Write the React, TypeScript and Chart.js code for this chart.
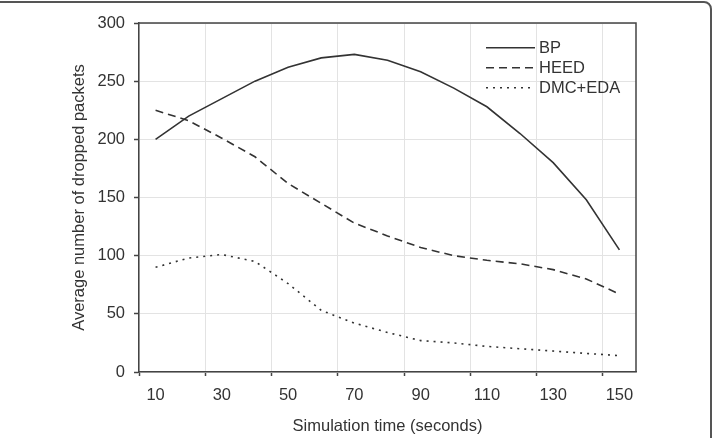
import React, { useEffect, useRef } from "react";
import { Chart, registerables } from "chart.js";

Chart.register(...registerables);

// Simulation time (seconds), one category every 10 s
const timeLabels = ["10", "20", "30", "40", "50", "60", "70", "80", "90", "100", "110", "120", "130", "140", "150"];

// Average number of dropped packets per protocol
const bpDropped = [200, 220, 235, 250, 262, 270, 273, 268, 258, 244, 228, 205, 180, 148, 105];
const heedDropped = [225, 216, 201, 185, 162, 145, 128, 117, 107, 100, 96, 93, 88, 80, 67];
const dmcEdaDropped = [90, 98, 101, 95, 76, 53, 42, 34, 27, 25, 22, 20, 18, 16, 14];

// Value axis range
const yMin = 0;
const yMax = 300;
const yStep = 50;

const FONT_FAMILY = "'Liberation Sans', Arial, Helvetica, sans-serif";
const FONT_SIZE = 16.5;
const TEXT_COLOR = "#333333";
const LINE_COLOR = "#333333";
const AXIS_COLOR = "#444444";
const GRID_COLOR = "#e3e3e3";

// Closes the plot frame on the top and right sides
const plotFramePlugin = {
  id: "plotFrame",
  afterDraw(chart: any) {
    const { ctx, chartArea } = chart;
    const { left, top, right, bottom } = chartArea;
    ctx.save();
    ctx.strokeStyle = AXIS_COLOR;
    ctx.lineWidth = 1.5;
    ctx.setLineDash([]);
    ctx.beginPath();
    ctx.moveTo(left, top);
    ctx.lineTo(right, top);
    ctx.lineTo(right, bottom);
    ctx.stroke();
    ctx.restore();
  },
};

// Line-sample legend placed in the upper right corner of the plot
const insideLegendPlugin = {
  id: "insideLegend",
  afterDatasetsDraw(chart: any) {
    const { ctx, chartArea } = chart;
    const sampleStart = chartArea.right - 150;
    const sampleEnd = chartArea.right - 101;
    const textX = chartArea.right - 97;
    chart.data.datasets.forEach((ds: any, i: number) => {
      const y = chartArea.top + 24.7 + i * 20;
      ctx.save();
      ctx.strokeStyle = ds.borderColor;
      ctx.lineWidth = ds.borderWidth;
      ctx.setLineDash(ds.borderDash || []);
      ctx.beginPath();
      ctx.moveTo(sampleStart, y);
      ctx.lineTo(sampleEnd, y);
      ctx.stroke();
      ctx.setLineDash([]);
      ctx.fillStyle = TEXT_COLOR;
      ctx.font = `${FONT_SIZE}px ${FONT_FAMILY}`;
      ctx.textAlign = "left";
      ctx.textBaseline = "middle";
      ctx.fillText(ds.label, textX, y + 0.5);
      ctx.restore();
    });
  },
};

export default function App() {
  const canvasRef = useRef<HTMLCanvasElement | null>(null);

  useEffect(() => {
    const canvas = canvasRef.current;
    if (!canvas) return;

    const everyOther = (ctx: any, on: string) =>
      ctx.index !== undefined && ctx.index % 2 === 0 ? on : "rgba(0,0,0,0)";

    const chart = new Chart(canvas, {
      type: "line",
      data: {
        labels: timeLabels,
        datasets: [
          {
            label: "BP",
            data: bpDropped,
            borderColor: LINE_COLOR,
            borderWidth: 1.6,
            borderDash: [],
            pointRadius: 0,
            fill: false,
            tension: 0,
          },
          {
            label: "HEED",
            data: heedDropped,
            borderColor: LINE_COLOR,
            borderWidth: 1.6,
            borderDash: [8, 5],
            pointRadius: 0,
            fill: false,
            tension: 0,
          },
          {
            label: "DMC+EDA",
            data: dmcEdaDropped,
            borderColor: LINE_COLOR,
            borderWidth: 1.6,
            borderDash: [2, 5],
            pointRadius: 0,
            fill: false,
            tension: 0,
          },
        ],
      },
      options: {
        responsive: false,
        animation: false,
        devicePixelRatio: 1,
        layout: { padding: { left: 0, top: 23, right: 77, bottom: 0 } },
        plugins: {
          legend: { display: false },
          tooltip: { enabled: false },
        },
        scales: {
          x: {
            type: "category",
            offset: true,
            afterFit(scale: any) {
              scale.height = 66;
            },
            grid: {
              offset: true,
              drawTicks: true,
              tickLength: 4,
              color: (ctx: any) => everyOther(ctx, GRID_COLOR),
              tickColor: (ctx: any) => everyOther(ctx, AXIS_COLOR),
              lineWidth: 1,
              tickWidth: 1.5,
            },
            border: { display: true, color: AXIS_COLOR, width: 1.5 },
            ticks: {
              autoSkip: false,
              maxRotation: 0,
              minRotation: 0,
              padding: 10,
              color: TEXT_COLOR,
              font: { family: FONT_FAMILY, size: FONT_SIZE },
              callback: (_v: any, index: number) => (index % 2 === 0 ? timeLabels[index] : ""),
            },
            title: {
              display: true,
              text: "Simulation time (seconds)",
              color: TEXT_COLOR,
              font: { family: FONT_FAMILY, size: FONT_SIZE },
              padding: { top: 0, bottom: 1.5 },
            },
          },
          y: {
            min: yMin,
            max: yMax,
            afterFit(scale: any) {
              scale.width = 139;
            },
            grid: {
              color: GRID_COLOR,
              tickColor: AXIS_COLOR,
              tickLength: 5,
              lineWidth: 1,
              tickWidth: 1.5,
            },
            border: { display: true, color: AXIS_COLOR, width: 1.5 },
            ticks: {
              stepSize: yStep,
              padding: 9,
              color: TEXT_COLOR,
              font: { family: FONT_FAMILY, size: FONT_SIZE },
            },
            title: {
              display: true,
              text: "Average number of dropped packets",
              color: TEXT_COLOR,
              font: { family: FONT_FAMILY, size: FONT_SIZE },
              padding: { top: 70, bottom: 0 },
            },
          },
        },
      },
      plugins: [plotFramePlugin, insideLegendPlugin],
    } as any);

    return () => chart.destroy();
  }, []);

  return (
    <div
      style={{
        position: "fixed",
        left: 0,
        top: 0,
        width: 713,
        height: 438,
        overflow: "hidden",
        background: "#ffffff",
      }}
    >
      <canvas ref={canvasRef} width={713} height={438} style={{ display: "block" }} />
      <div
        style={{
          position: "absolute",
          left: -20,
          top: 1,
          width: 732,
          height: 500,
          border: "2px solid #555555",
          borderRadius: 8,
          boxSizing: "border-box",
          pointerEvents: "none",
        }}
      />
    </div>
  );
}
